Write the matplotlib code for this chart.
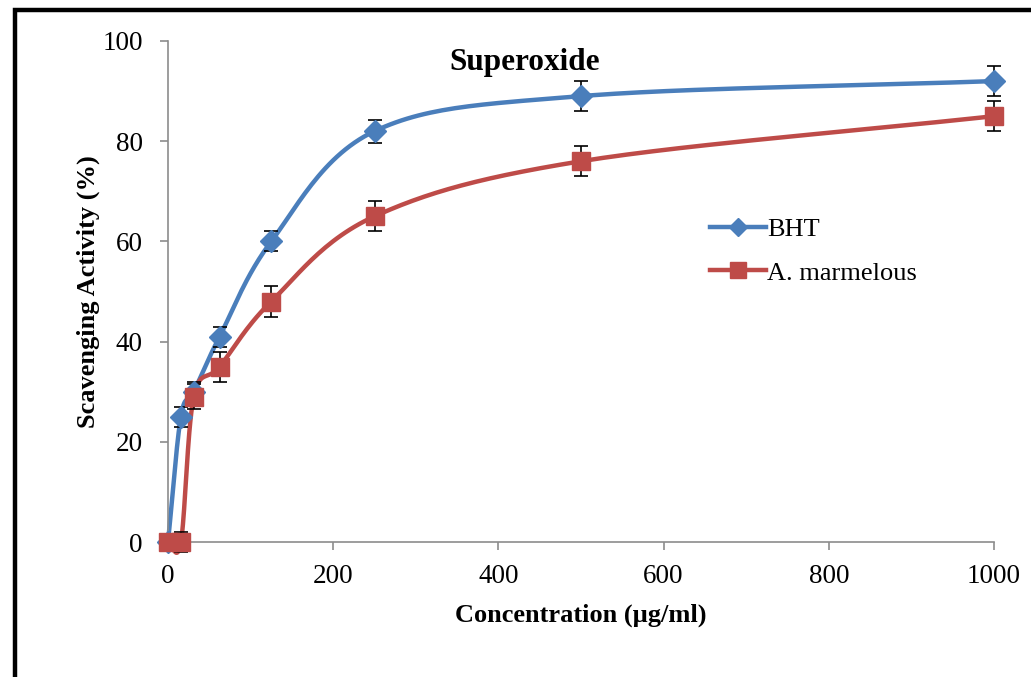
import numpy as np
import matplotlib
matplotlib.use("Agg")
import matplotlib.pyplot as plt
from matplotlib.patches import Rectangle

# data
conc = [0, 15.6, 31.25, 62.5, 125, 250, 500, 1000]
bht = [0, 25, 30, 41, 60, 82, 89, 92]
bht_err = [0, 2, 2, 2, 2, 2.3, 3, 3]
marm = [0, 0, 29, 35, 48, 65, 76, 85]
marm_err = [0, 2, 2.5, 3, 3, 3, 3, 3]

blue = "#4a7ebb"
red = "#be4b48"


def smooth(x, y, n=30):
    # Catmull-Rom style smoothing like Excel's smoothed line
    x = np.asarray(x, float)
    y = np.asarray(y, float)
    px = np.concatenate([[2 * x[0] - x[1]], x, [2 * x[-1] - x[-2]]])
    py = np.concatenate([[2 * y[0] - y[1]], y, [2 * y[-1] - y[-2]]])
    xs, ys = [], []
    for i in range(1, len(px) - 2):
        t = np.linspace(0, 1, n)
        c1x = px[i] + (px[i + 1] - px[i - 1]) / 6
        c1y = py[i] + (py[i + 1] - py[i - 1]) / 6
        c2x = px[i + 1] - (px[i + 2] - px[i]) / 6
        c2y = py[i + 1] - (py[i + 2] - py[i]) / 6
        bx = (1 - t) ** 3 * px[i] + 3 * (1 - t) ** 2 * t * c1x + 3 * (1 - t) * t ** 2 * c2x + t ** 3 * px[i + 1]
        by = (1 - t) ** 3 * py[i] + 3 * (1 - t) ** 2 * t * c1y + 3 * (1 - t) * t ** 2 * c2y + t ** 3 * py[i + 1]
        xs.extend(bx)
        ys.extend(by)
    return xs, ys


plt.rcParams['font.family'] = ['Liberation Serif', 'DejaVu Serif']

fig = plt.figure(figsize=(10.31, 6.77), dpi=100)
ax = fig.add_axes([168 / 1031, 1 - 542 / 677, (994 - 168) / 1031, (542 - 41) / 677])

# outer frame (cut off at right and bottom like the reference)
fig.patches.append(Rectangle((15 / 1031, -0.1), 1.2, 1 - 10 / 677 + 0.1,
                             transform=fig.transFigure, fill=False,
                             edgecolor="black", linewidth=3.2))

for y, err, col, mk, ms, lms, lab in [(bht, bht_err, blue, "D", 11, 9, "BHT"),
                                       (marm, marm_err, red, "s", 13.5, 12, "A. marmelous")]:
    sx, sy = smooth(conc, y)
    ax.plot(sx, sy, color=col, linewidth=3.2, zorder=2, clip_on=False)
    ax.errorbar(conc, y, yerr=err, fmt="none", ecolor="black", elinewidth=1.2,
                capsize=5, capthick=1.2, zorder=3, clip_on=False)
    ax.plot(conc, y, linestyle="none", marker=mk, markersize=ms, color=col,
            zorder=4, clip_on=False)
    ax.plot([], [], color=col, linewidth=3.2, marker=mk, markersize=lms, label=lab)

ax.set_xlim(0, 1000)
ax.set_ylim(0, 100)
ax.set_xticks(range(0, 1001, 200))
ax.set_yticks(range(0, 101, 20))
for s in ["top", "right"]:
    ax.spines[s].set_visible(False)
for s in ["left", "bottom"]:
    ax.spines[s].set_color("#8c8c8c")
    ax.spines[s].set_linewidth(1.2)
ax.tick_params(colors="#8c8c8c", labelcolor="black", labelsize=19.5, length=6, width=1.2)
ax.tick_params(axis="x", pad=10)
ax.tick_params(axis="y", pad=12)

ax.set_xlabel("Concentration (µg/ml)", fontsize=19, fontweight="bold", labelpad=10)
ax.set_ylabel("Scavenging Activity (%)", fontsize=19, fontweight="bold", labelpad=2)
ax.text(0.432, 0.986, "Superoxide", transform=ax.transAxes, ha="center", va="top",
        fontsize=22.5, fontweight="bold")

ax.legend(loc="upper left", bbox_to_anchor=(0.644, 0.668), frameon=False, fontsize=19,
          handlelength=2.1, handletextpad=0.05, labelspacing=0.75, borderaxespad=0)

fig.savefig("out.png", dpi=100)
